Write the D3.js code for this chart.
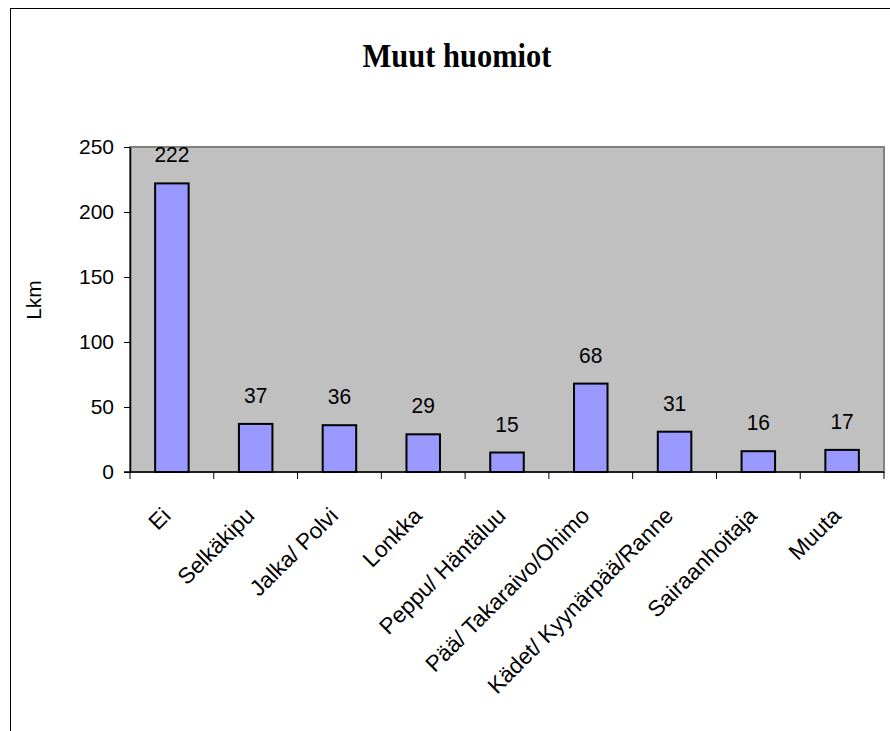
<!DOCTYPE html>
<html>
<head>
<meta charset="utf-8">
<script src="https://cdn.jsdelivr.net/npm/d3@7"></script>
<style>
  html, body { margin: 0; padding: 0; background: #fff; }
  svg { display: block; }
</style>
</head>
<body>
<svg id="chart" width="890" height="731"></svg>
<script>
// Category names and counts
const categories = ["Ei", "Selkäkipu", "Jalka/ Polvi", "Lonkka", "Peppu/ Häntäluu",
  "Pää/ Takaraivo/Ohimo", "Kädet/ Kyynärpää/Ranne", "Sairaanhoitaja", "Muuta"];
const counts = [222, 37, 36, 29, 15, 68, 31, 16, 17];
const yTicks = [0, 50, 100, 150, 200, 250];
const titleText = "Muut huomiot";
const yLabel = "Lkm";

const svg = d3.select("#chart");
const font = "'Liberation Sans', Arial, sans-serif";

// Chart frame
svg.append("rect")
  .attr("x", 10.5).attr("y", 8.5)
  .attr("width", 900).attr("height", 760)
  .attr("fill", "#fff").attr("stroke", "#000").attr("stroke-width", 1);

const plot = { left: 130, right: 884, top: 147, bottom: 472 };

const x = d3.scaleBand().domain(categories)
  .range([plot.left, plot.right]).paddingInner(0.6).paddingOuter(0.3);
const xEdges = d3.scaleBand().domain(categories).range([plot.left, plot.right]);
const y = d3.scaleLinear().domain([0, 250]).range([plot.bottom, plot.top]);

// Plot area
svg.append("rect")
  .attr("x", plot.left).attr("y", plot.top)
  .attr("width", plot.right - plot.left).attr("height", plot.bottom - plot.top)
  .attr("fill", "#c0c0c0").attr("stroke", "#808080").attr("stroke-width", 2);

// Bars
svg.append("g").selectAll("rect").data(counts).join("rect")
  .attr("x", (d, i) => x(categories[i]))
  .attr("y", d => y(d))
  .attr("width", x.bandwidth())
  .attr("height", d => y(0) - y(d))
  .attr("fill", "#9999ff").attr("stroke", "#000").attr("stroke-width", 2);

// Value labels
svg.append("g").selectAll("text").data(counts).join("text")
  .attr("transform", (d, i) => `translate(${x(categories[i]) + x.bandwidth() / 2},${y(d) - 21}) scale(1,1.07)`)
  .attr("text-anchor", "middle")
  .attr("font-family", font).attr("font-size", 21)
  .text(d => d);

// Y axis
const yAxis = svg.append("g").attr("transform", `translate(${plot.left},0)`)
  .call(d3.axisLeft(y).tickValues(yTicks).tickSize(6).tickSizeOuter(0).tickPadding(10));
yAxis.select(".domain").attr("stroke", "#000").attr("stroke-width", 1.5);
yAxis.selectAll(".tick line").attr("stroke", "#000");
yAxis.selectAll("text").attr("font-family", font).attr("font-size", 21).attr("fill", "#000");

// X axis line and tick marks at category boundaries
svg.append("line")
  .attr("x1", plot.left - 6).attr("x2", plot.right)
  .attr("y1", plot.bottom).attr("y2", plot.bottom)
  .attr("stroke", "#000").attr("stroke-width", 1.5);
const edges = categories.map(c => xEdges(c)).concat([plot.right]);
svg.append("g").selectAll("line").data(edges).join("line")
  .attr("x1", d => d).attr("x2", d => d)
  .attr("y1", plot.bottom).attr("y2", plot.bottom + 7)
  .attr("stroke", "#000");

// Rotated category labels
svg.append("g").selectAll("text").data(categories).join("text")
  .attr("transform", d => `translate(${xEdges(d) + xEdges.bandwidth() / 2 - 11},${plot.bottom + 34}) rotate(-45)`)
  .attr("text-anchor", "end")
  .attr("dy", "0.7em")
  .attr("font-family", font).attr("font-size", 22.5)
  .text(d => d);

// Title
svg.append("text")
  .attr("transform", "translate(457,67) scale(1,1.12)")
  .attr("text-anchor", "middle")
  .attr("font-family", "'Liberation Serif', 'Times New Roman', serif")
  .attr("font-weight", "bold").attr("font-size", 30.5)
  .text(titleText);

// Y axis title
svg.append("text")
  .attr("transform", `translate(41,300) rotate(-90)`)
  .attr("text-anchor", "middle")
  .attr("font-family", font).attr("font-size", 21)
  .text(yLabel);
</script>
</body>
</html>
